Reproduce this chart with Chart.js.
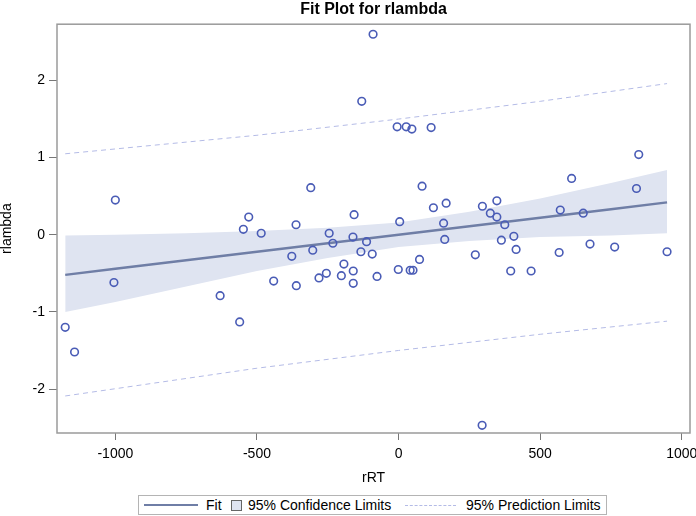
<!DOCTYPE html>
<html>
<head>
<meta charset="utf-8">
<script src="https://cdn.jsdelivr.net/npm/chart.js@4"></script>
<style>
  body { margin: 0; background: #fff; }
  #wrap { position: relative; width: 696px; height: 516px; }
  #legend { position: absolute; left: 138px; top: 495px; width: 469px; height: 20px; box-sizing: border-box;
            border: 1px solid #b4b4b4; background: #fff; font: 14px 'Liberation Sans', Arial, sans-serif; color: #000; }
  #legend span { position: absolute; top: 0; line-height: 18px; white-space: nowrap; }
  .mk { position: absolute; }
</style>
</head>
<body>
<div id="wrap">
  <canvas id="myChart" width="696" height="516"></canvas>
  <div id="legend">
    <div class="mk" style="left:5px;top:8px;width:54px;height:0;border-top:2.5px solid #6f7ea6;"></div>
    <span style="left:67px;">Fit</span>
    <div class="mk" style="left:92px;top:4px;width:9px;height:9px;background:#dfe4f1;border:1px solid #666;"></div>
    <span style="left:109px;">95% Confidence Limits</span>
    <div class="mk" style="left:266px;top:9px;width:51px;height:0;border-top:1px dashed #b4bbe6;"></div>
    <span style="left:327px;">95% Prediction Limits</span>
  </div>
</div>
<script>
// observed points
let rrtValues = [-1177,-1144,-1000,-1005,-630,-561,-548,-529,-485,-441,-377,-362,-361,-310,-303,-281,-255,-245,-232,-202,
  -193,-160,-160,-161,-157,-133,-130,-113,-93,-90,-76,-5,4,-1,27,41,47,51,74,83,
  115,123,159,163,168,271,295,296,324,347,347,363,375,396,407,415,468,567,571,611,
  652,676,763,840,848,948];
let rlambdaValues = [-1.20,-1.52,0.45,-0.62,-0.79,-1.13,0.07,0.23,0.02,-0.60,-0.28,0.13,-0.66,0.61,-0.20,-0.56,-0.50,0.02,-0.11,-0.53,
  -0.38,-0.47,-0.63,-0.03,0.26,-0.22,1.73,-0.09,-0.25,2.60,-0.54,1.40,0.17,-0.45,1.40,-0.46,1.37,-0.46,-0.32,0.63,
  1.39,0.35,0.15,-0.06,0.41,-0.26,-2.47,0.37,0.28,0.44,0.23,-0.07,0.13,-0.47,-0.02,-0.19,-0.47,-0.23,0.32,0.73,
  0.28,-0.12,-0.16,0.60,1.04,-0.22];

// fit line and confidence band
let bandX = [-1177,-1000,-750,-500,-250,0,250,500,750,948];
let fitY = [-0.52,-0.44,-0.33,-0.22,-0.11,0.00,0.11,0.22,0.33,0.42];
let clUpper = [-0.01,0.00,0.02,0.05,0.09,0.16,0.30,0.47,0.67,0.84];
let clLower = [-1.00,-0.87,-0.67,-0.47,-0.30,-0.16,-0.08,-0.03,-0.01,0.02];

// prediction limits
let predX = [-1177,-500,0,500,948];
let plUpper = [1.05,1.29,1.50,1.73,1.96];
let plLower = [-2.09,-1.73,-1.50,-1.29,-1.12];

let xTicks = [-1000,-500,0,500,1000];
let yTicks = [-2,-1,0,1,2];

function pts(xs, ys) {
    return xs.map(function(x, i) {return {x: x, y: ys[i]}});
}

Chart.defaults.font.family = "'Liberation Sans', Arial, sans-serif";
Chart.defaults.font.size = 14;
Chart.defaults.color = '#000';

let frame = {
    id: 'frame',
    afterDraw: function(chart) {
        let a = chart.chartArea, c = chart.ctx;
        c.save();
        c.strokeStyle = '#9a9a9a';
        c.lineWidth = 1.5;
        c.strokeRect(a.left, a.top, a.right - a.left, a.bottom - a.top);
        c.restore();
    }
};

let line = {pointRadius: 0, fill: false, tension: 0};

new Chart(document.getElementById('myChart').getContext('2d'), {
    type: 'line',
    data: {
        datasets: [
            Object.assign({}, line, {data: pts(bandX, clUpper), borderWidth: 0, borderColor: 'rgba(0,0,0,0)',
                backgroundColor: '#dfe4f1', fill: '+1', order: 3}),
            Object.assign({}, line, {data: pts(bandX, clLower), borderWidth: 0, borderColor: 'rgba(0,0,0,0)', order: 3}),
            Object.assign({}, line, {data: pts(bandX, fitY), borderColor: '#6f7ea6', borderWidth: 2.5, order: 1}),
            Object.assign({}, line, {data: pts(predX, plUpper), borderColor: '#b4bbe6', borderWidth: 1, borderDash: [5, 4], order: 2}),
            Object.assign({}, line, {data: pts(predX, plLower), borderColor: '#b4bbe6', borderWidth: 1, borderDash: [5, 4], order: 2}),
            {data: pts(rrtValues, rlambdaValues), showLine: false, pointRadius: 3.8, pointBorderWidth: 1.6,
                pointBorderColor: '#4a5cb6', pointBackgroundColor: 'rgba(0,0,0,0)', order: 0}
        ]
    },
    options: {
        responsive: false,
        animation: false,
        devicePixelRatio: 1,
        events: [],
        layout: {padding: {left: 0, right: 6, top: 0, bottom: 29}},
        plugins: {
            legend: {display: false},
            tooltip: {enabled: false},
            title: {display: true, text: 'Fit Plot for rlambda', fullSize: false,
                font: {size: 16, weight: 'bold'}, padding: {top: 0, bottom: 5}}
        },
        scales: {
            x: {
                type: 'linear', min: -1206, max: 1029,
                afterBuildTicks: function(s) { s.ticks = xTicks.map(function(v) {return {value: v}}); },
                afterFit: function(s) { s.height = 54; s.paddingLeft = 0; s.paddingRight = 0; },
                grid: {drawOnChartArea: false, tickLength: 7, color: '#777'},
                border: {display: false},
                ticks: {padding: 6, maxRotation: 0, color: '#000', callback: function(v) {return String(v);}},
                title: {display: true, text: 'rRT', padding: 0}
            },
            y: {
                type: 'linear', min: -2.57, max: 2.73,
                afterBuildTicks: function(s) { s.ticks = yTicks.map(function(v) {return {value: v}}); },
                afterFit: function(s) { s.width = 57; s.paddingTop = 0; s.paddingBottom = 0; },
                grid: {drawOnChartArea: false, tickLength: 8, color: '#777'},
                border: {display: false},
                ticks: {padding: 4, color: '#000', callback: function(v) {return String(v);}},
                title: {display: true, text: 'rlambda', padding: 0, font: {lineHeight: 1}}
            }
        }
    },
    plugins: [frame]
});
</script>
</body>
</html>
